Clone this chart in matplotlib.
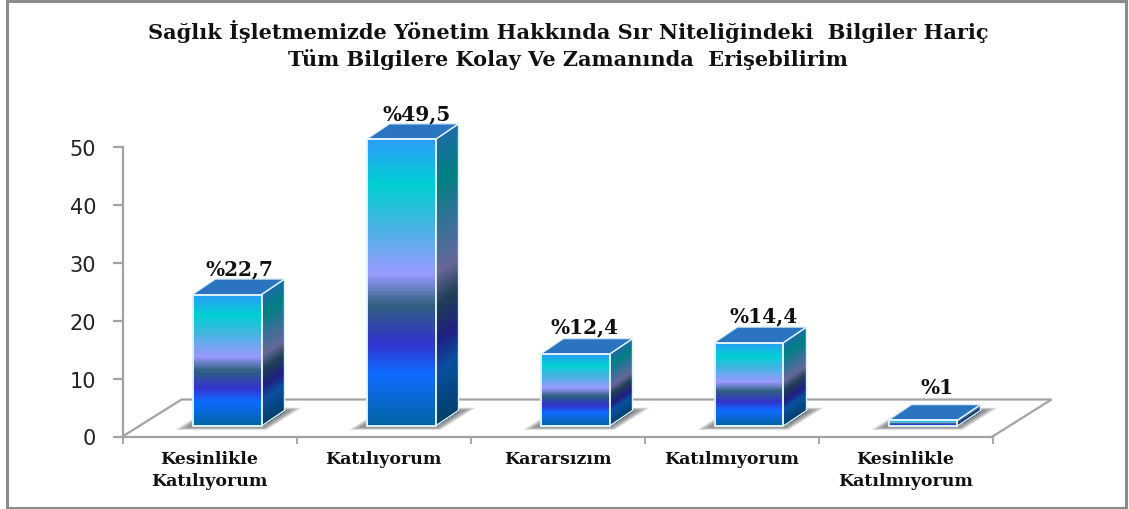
import numpy as np
import matplotlib
matplotlib.use("Agg")
import matplotlib.pyplot as plt
from matplotlib.colors import LinearSegmentedColormap
from matplotlib.patches import Polygon, Rectangle

title = ("Sağlık İşletmemizde Yönetim Hakkında Sır Niteliğindeki  Bilgiler Hariç\n"
         "Tüm Bilgilere Kolay Ve Zamanında  Erişebilirim")
categories = ["Kesinlikle\nKatılıyorum", "Katılıyorum", "Kararsızım",
              "Katılmıyorum", "Kesinlikle\nKatılmıyorum"]
values = [22.7, 49.5, 12.4, 14.4, 1.0]
value_labels = ["%22,7", "%49,5", "%12,4", "%14,4", "%1"]
yticks = [0, 10, 20, 30, 40, 50]
label_dx_px = [12.5, 15.5, 9.5, 14.5, 14]
label_dy_px = [26, 26.5, 28, 27, 33]

SERIF = "DejaVu Serif"
W, H = 1129, 510
fig = plt.figure(figsize=(W / 100, H / 100), dpi=100, facecolor="white")
L, R, T, B = 122.5, 992.5, 148, 437.5
ax = fig.add_axes([L / W, 1 - B / H, (R - L) / W, (B - T) / H])
ax.set_xlim(-0.5, 4.5)
ax.set_ylim(0, 50)
ax.patch.set_alpha(0)

UX = (R - L) / 5      # px per category
UY = (B - T) / 50     # px per unit
GRAY = "#a3a3a3"

front_stops = [(0, "#2a9df8"), (.157, "#00cfd2"), (.29, "#3fb5e0"), (.47, "#9a9aff"),
               (.58, "#2f6080"), (.71, "#3333cc"), (.816, "#0f6bff"), (1, "#0064a2")]
side_stops = [(0, "#1c6ca8"), (.157, "#008080"), (.29, "#2d7396"), (.47, "#666699"),
              (.58, "#1f3f55"), (.71, "#1f1f80"), (.816, "#0a4fa0"), (1, "#00406a")]
front_cmap = LinearSegmentedColormap.from_list("front", front_stops)
side_cmap = LinearSegmentedColormap.from_list("side", side_stops)

base = 10.5 / UY      # bar foot above the front edge of the floor
half = 34.5 / UX      # half-width of a bar
shift = 17.5 / UX     # bars sit right of the category centre
dx = 23 / UX          # depth
dy = 15.5 / UY

# floor outline
fx = [-0.5, -0.5 + 59 / UX, 4.5 + 59 / UX, 4.5]
fy = [0, 37 / UY, 37 / UY, 0]
ax.plot(fx, fy, color=GRAY, lw=1.6, clip_on=False, zorder=1, solid_joinstyle="miter")


def shadow(x0, x1):
    """Soft grey band on the floor behind a bar's foot."""
    layers = 24
    for i in range(layers):
        g = 1 - i / layers
        pad = (4 + g * 14) / UX
        low = base - (1 + g * 3) / UY
        high = base + dy + (g * 3) / UY
        pts = [(x0 - pad, low), (x1 + pad * .3, low),
               (x1 + dx + pad, high), (x0 + dx - pad * .3, high)]
        ax.add_patch(Polygon(pts, closed=True, fc="#606060", ec="none", alpha=0.045,
                             clip_on=False, zorder=2))


n = 400
for i, v in enumerate(values):
    x0, x1 = i + shift - half, i + shift + half
    y0, y1 = base, base + v
    shadow(x0, x1)
    # stretched to the bar height
    ys = np.linspace(y1, y0, n + 1)
    frac = (np.arange(n) + .5)[:, None] / n
    X, Y = np.meshgrid([x0, x1], ys)
    ax.pcolormesh(X, Y, frac, cmap=front_cmap, vmin=0, vmax=1, clip_on=False, zorder=3,
                  shading="flat", edgecolors="none", antialiased=False)
    # side face, skewed
    SX = np.tile(np.array([x1, x1 + dx]), (n + 1, 1))
    SY = ys[:, None] + np.array([0, dy])
    ax.pcolormesh(SX, SY, frac, cmap=side_cmap, vmin=0, vmax=1, clip_on=False, zorder=3,
                  shading="flat", edgecolors="none", antialiased=False)
    # top face
    top = [(x0, y1), (x1, y1), (x1 + dx, y1 + dy), (x0 + dx, y1 + dy)]
    ax.add_patch(Polygon(top, closed=True, fc="#2a74c0", ec="#d8ecff", lw=0.8,
                         clip_on=False, zorder=4))
    # pale edges
    ax.add_patch(Rectangle((x0, y0), x1 - x0, v, fc="none", ec="#dff1fb", lw=1.4,
                           clip_on=False, zorder=5))
    ax.plot([x1, x1 + dx, x1 + dx, x1], [y1, y1 + dy, y0 + dy, y0], color="#dff1fb",
            lw=1.0, clip_on=False, zorder=5)
    ax.annotate(value_labels[i], xy=(i + shift, y1),
                xytext=(label_dx_px[i] * .72, label_dy_px[i] * .72),
                textcoords="offset points", ha="center", va="center",
                family=SERIF, weight="bold", fontsize=14.5, color="#101010",
                zorder=6, annotation_clip=False)

# axes
for s in ("top", "right"):
    ax.spines[s].set_visible(False)
for s in ("left", "bottom"):
    ax.spines[s].set_color(GRAY)
    ax.spines[s].set_linewidth(1.6)
    ax.spines[s].set_zorder(1.5)
ax.set_yticks(yticks)
ax.tick_params(axis="y", length=7, width=1.6, color=GRAY, pad=12, labelsize=15,
               labelcolor="#222222")
ax.set_xticks(np.arange(-0.5, 5, 1), minor=True)
ax.set_xticks(np.arange(5))
ax.tick_params(axis="x", which="minor", length=5, width=1.3, color=GRAY)
ax.tick_params(axis="x", which="major", length=0, pad=9.5)
ax.set_xticklabels(categories, family=SERIF, weight="bold", fontsize=12.5,
                   color="#111111", linespacing=1.38)

fig.text(568 / W, 1 - 45 / H, title, ha="center", va="center", family=SERIF,
         weight="bold", fontsize=15, color="#111111", linespacing=1.4)

# outer frame
fig.add_artist(Rectangle((6.5 / W, 1 - 509 / H), (1126 - 6.5) / W, (509 - 2) / H,
                         transform=fig.transFigure, fc="none", ec="#8c8c8c", lw=2.2))

fig.savefig("out.png", dpi=100, facecolor="white")
